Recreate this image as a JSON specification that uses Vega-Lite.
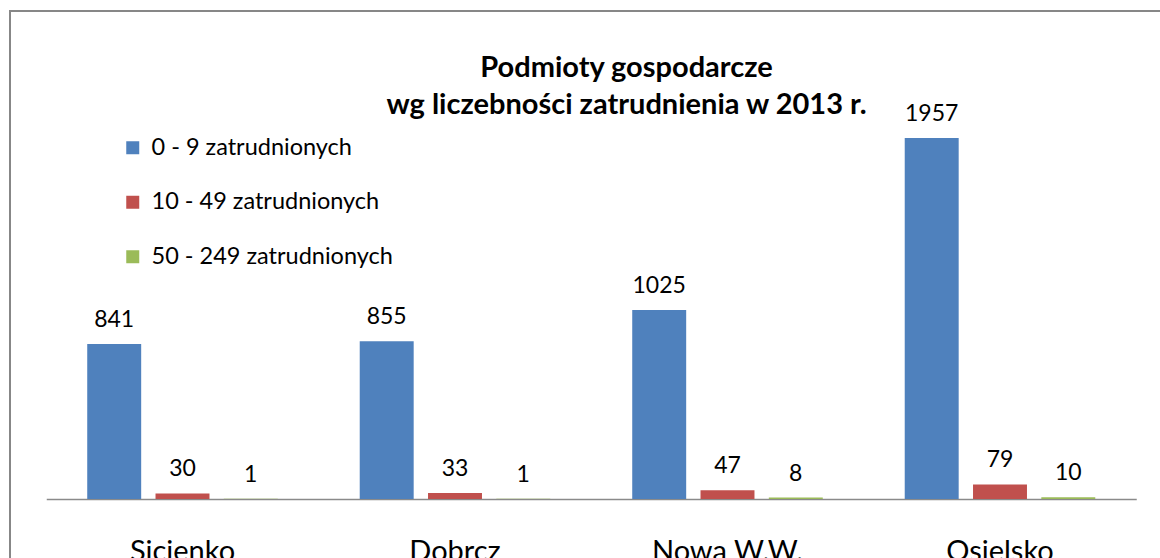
{
  "$schema": "https://vega.github.io/schema/vega-lite/v6.json",
  "autosize": "none",
  "width": 1163,
  "height": 559,
  "padding": {"left": 10, "top": 11, "right": 0, "bottom": 0},
  "background": "white",
  "config": {
    "font": "Lato",
    "view": {"stroke": "#878787", "strokeWidth": 2}
  },
  "title": {
    "text": ["Podmioty gospodarcze", "wg liczebności zatrudnienia w 2013 r."],
    "orient": "top",
    "anchor": "middle",
    "frame": "group",
    "font": "Lato",
    "fontSize": 29,
    "fontWeight": "bold",
    "color": "#000000",
    "lineHeight": 37,
    "baseline": "top",
    "offset": 0,
    "dx": 35,
    "dy": 109
  },
  "data": {
    "values": [
      {"gmina": "Sicienko", "kategoria": "0 - 9 zatrudnionych", "liczba": 841},
      {"gmina": "Sicienko", "kategoria": "10 - 49  zatrudnionych", "liczba": 30},
      {"gmina": "Sicienko", "kategoria": "50 - 249 zatrudnionych", "liczba": 1},
      {"gmina": "Dobrcz", "kategoria": "0 - 9 zatrudnionych", "liczba": 855},
      {"gmina": "Dobrcz", "kategoria": "10 - 49  zatrudnionych", "liczba": 33},
      {"gmina": "Dobrcz", "kategoria": "50 - 249 zatrudnionych", "liczba": 1},
      {"gmina": "Nowa W.W.", "kategoria": "0 - 9 zatrudnionych", "liczba": 1025},
      {"gmina": "Nowa W.W.", "kategoria": "10 - 49  zatrudnionych", "liczba": 47},
      {"gmina": "Nowa W.W.", "kategoria": "50 - 249 zatrudnionych", "liczba": 8},
      {"gmina": "Osielsko", "kategoria": "0 - 9 zatrudnionych", "liczba": 1957},
      {"gmina": "Osielsko", "kategoria": "10 - 49  zatrudnionych", "liczba": 79},
      {"gmina": "Osielsko", "kategoria": "50 - 249 zatrudnionych", "liczba": 10}
    ]
  },
  "encoding": {
    "x": {
      "field": "gmina",
      "type": "nominal",
      "sort": null,
      "scale": {
        "domain": ["Sicienko", "Dobrcz", "Nowa W.W.", "Osielsko"],
        "range": [36.25, 1126.25],
        "paddingInner": 0,
        "paddingOuter": 0
      },
      "axis": {
        "title": null,
        "orient": "bottom",
        "offset": -71,
        "ticks": false,
        "tickSize": 0,
        "domainColor": "#8a8a8a",
        "domainWidth": 1.5,
        "labelAngle": 0,
        "labelFont": "Lato",
        "labelFontSize": 29,
        "labelColor": "#000000",
        "labelPadding": 38,
        "labelBaseline": "top",
        "labelLimit": 0,
        "grid": false
      }
    },
    "xOffset": {
      "field": "kategoria",
      "type": "nominal",
      "sort": null,
      "scale": {
        "domain": ["0 - 9 zatrudnionych", "10 - 49  zatrudnionych", "50 - 249 zatrudnionych"],
        "paddingInner": 0.21,
        "paddingOuter": 0.6
      }
    },
    "y": {
      "field": "liczba",
      "type": "quantitative",
      "stack": null,
      "scale": {"domain": [0, 2646], "range": [488, 0], "nice": false, "zero": true},
      "axis": null
    }
  },
  "layer": [
    {
      "mark": {"type": "bar"},
      "encoding": {
        "color": {
          "field": "kategoria",
          "type": "nominal",
          "sort": null,
          "scale": {
            "domain": ["0 - 9 zatrudnionych", "10 - 49  zatrudnionych", "50 - 249 zatrudnionych"],
            "range": ["#4F81BD", "#C0504D", "#9BBB59"]
          },
          "legend": {
            "title": null,
            "orient": "none",
            "legendX": 111,
            "legendY": 125,
            "padding": 0,
            "symbolType": "square",
            "symbolSize": 169,
            "symbolStrokeWidth": 0,
            "labelFont": "Lato",
            "labelFontSize": 23.5,
            "labelColor": "#000000",
            "labelOffset": 7,
            "labelLimit": 0,
            "rowPadding": 29.5
          }
        }
      }
    },
    {
      "mark": {
        "type": "text",
        "baseline": "alphabetic",
        "align": "center",
        "dy": -17,
        "font": "Lato",
        "fontSize": 23,
        "color": "#000000"
      },
      "encoding": {
        "text": {"field": "liczba", "type": "quantitative"}
      }
    }
  ]
}
